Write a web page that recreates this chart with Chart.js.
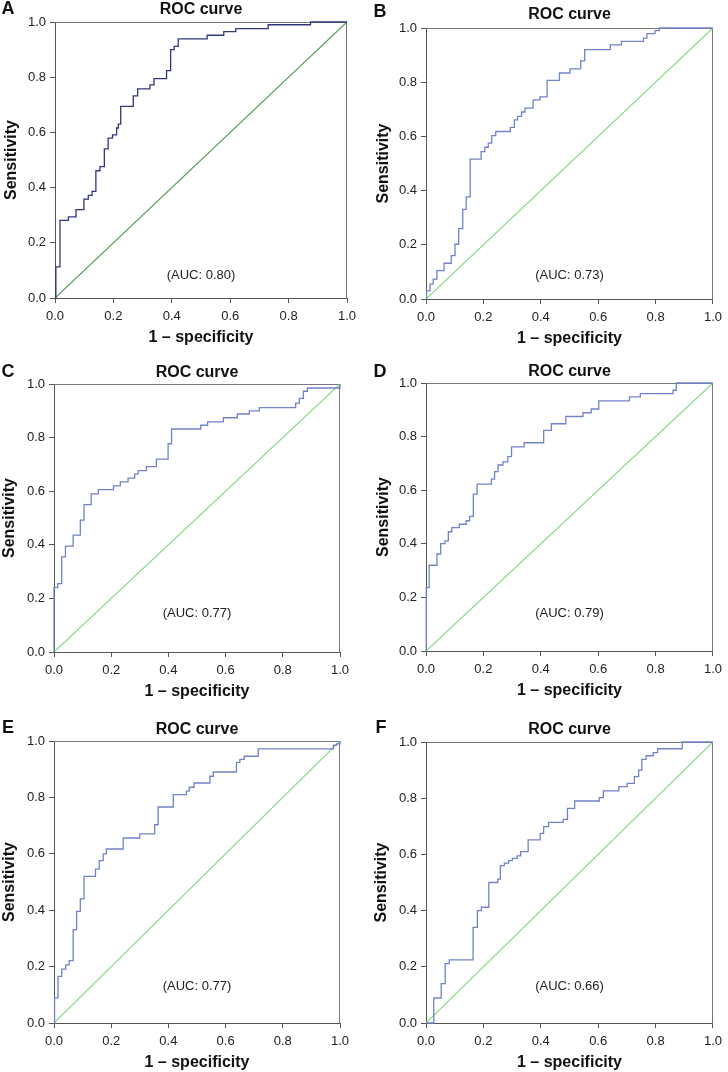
<!DOCTYPE html>
<html>
<head>
<meta charset="utf-8">
<script src="https://cdn.jsdelivr.net/npm/chart.js@4.4.1/dist/chart.umd.min.js"></script>
<style>
  html, body { margin: 0; padding: 0; background: #fff; width: 728px; height: 1072px; overflow: hidden; }
  .panel { position: absolute; }
</style>
</head>
<body>
<div class="panel" id="pA"><canvas id="cA"></canvas></div>
<div class="panel" id="pB"><canvas id="cB"></canvas></div>
<div class="panel" id="pC"><canvas id="cC"></canvas></div>
<div class="panel" id="pD"><canvas id="cD"></canvas></div>
<div class="panel" id="pE"><canvas id="cE"></canvas></div>
<div class="panel" id="pF"><canvas id="cF"></canvas></div>
<script>
// ROC curve vertices (1 - specificity, sensitivity)
const fprA = [0, 0.003, 0.017, 0.046, 0.072, 0.099, 0.114, 0.127, 0.140, 0.154, 0.169, 0.182, 0.197, 0.211, 0.217, 0.225, 0.268, 0.283, 0.325, 0.339, 0.382, 0.396, 0.408, 0.422, 0.521, 0.578, 0.619, 0.730, 0.875, 1];
const tprA = [0, 0.113, 0.281, 0.294, 0.320, 0.358, 0.372, 0.386, 0.461, 0.476, 0.540, 0.579, 0.591, 0.616, 0.630, 0.694, 0.732, 0.758, 0.772, 0.795, 0.824, 0.900, 0.912, 0.939, 0.952, 0.965, 0.976, 0.990, 1.0, 1.0];

const fprB = [0, 0.002, 0.014, 0.025, 0.038, 0.063, 0.088, 0.101, 0.114, 0.128, 0.140, 0.154, 0.192, 0.205, 0.217, 0.229, 0.243, 0.294, 0.308, 0.319, 0.333, 0.345, 0.373, 0.397, 0.422, 0.465, 0.502, 0.539, 0.553, 0.642, 0.681, 0.758, 0.770, 0.798, 0.813, 1];
const tprB = [0, 0.030, 0.055, 0.073, 0.105, 0.132, 0.160, 0.202, 0.260, 0.331, 0.377, 0.516, 0.544, 0.560, 0.575, 0.603, 0.618, 0.633, 0.661, 0.674, 0.690, 0.704, 0.735, 0.746, 0.807, 0.834, 0.849, 0.879, 0.920, 0.938, 0.951, 0.963, 0.979, 0.990, 1.0, 1.0];

const fprC = [0, 0.0, 0.013, 0.027, 0.040, 0.067, 0.092, 0.105, 0.130, 0.155, 0.208, 0.232, 0.259, 0.282, 0.294, 0.323, 0.358, 0.399, 0.411, 0.513, 0.537, 0.592, 0.641, 0.683, 0.718, 0.845, 0.858, 0.872, 0.886, 1];
const tprC = [0, 0.240, 0.255, 0.355, 0.395, 0.436, 0.492, 0.550, 0.590, 0.606, 0.620, 0.635, 0.649, 0.664, 0.677, 0.692, 0.720, 0.777, 0.832, 0.846, 0.859, 0.874, 0.888, 0.900, 0.912, 0.929, 0.946, 0.973, 0.985, 1.0];

const fprD = [0, 0.001, 0.011, 0.038, 0.051, 0.066, 0.078, 0.090, 0.116, 0.140, 0.152, 0.165, 0.178, 0.228, 0.239, 0.251, 0.268, 0.285, 0.298, 0.342, 0.410, 0.437, 0.487, 0.547, 0.576, 0.602, 0.709, 0.747, 0.861, 0.872, 1];
const tprD = [0, 0.237, 0.320, 0.362, 0.401, 0.411, 0.445, 0.460, 0.473, 0.486, 0.502, 0.585, 0.623, 0.641, 0.669, 0.694, 0.706, 0.725, 0.762, 0.777, 0.823, 0.848, 0.875, 0.889, 0.903, 0.933, 0.948, 0.960, 0.973, 1.0, 1.0];

const fprE = [0, 0.002, 0.014, 0.027, 0.041, 0.053, 0.067, 0.079, 0.092, 0.105, 0.145, 0.158, 0.172, 0.183, 0.242, 0.300, 0.352, 0.364, 0.417, 0.463, 0.473, 0.490, 0.545, 0.557, 0.638, 0.650, 0.665, 0.714, 0.977, 0.988, 1];
const tprE = [0, 0.089, 0.165, 0.191, 0.206, 0.221, 0.331, 0.396, 0.440, 0.520, 0.546, 0.576, 0.600, 0.617, 0.656, 0.671, 0.703, 0.766, 0.810, 0.822, 0.836, 0.851, 0.875, 0.890, 0.924, 0.935, 0.946, 0.972, 0.985, 0.990, 1.0];

const fprF = [0, 0.027, 0.053, 0.067, 0.081, 0.164, 0.179, 0.193, 0.219, 0.250, 0.259, 0.273, 0.288, 0.301, 0.318, 0.330, 0.356, 0.398, 0.410, 0.427, 0.478, 0.493, 0.518, 0.604, 0.618, 0.672, 0.701, 0.726, 0.741, 0.752, 0.767, 0.792, 0.807, 0.893, 1];
const tprF = [0, 0.089, 0.140, 0.211, 0.225, 0.340, 0.400, 0.412, 0.500, 0.512, 0.560, 0.569, 0.578, 0.586, 0.595, 0.610, 0.652, 0.675, 0.699, 0.714, 0.725, 0.764, 0.790, 0.802, 0.826, 0.841, 0.853, 0.877, 0.900, 0.938, 0.951, 0.962, 0.976, 1.0, 1.0];

// chance line and axis ticks
const diagX = [0, 1];
const diagY = [0, 1];
const tickValues = [0, 0.2, 0.4, 0.6, 0.8, 1.0];

const panelLetters = ['A', 'B', 'C', 'D', 'E', 'F'];
const aucValues = ['0.80', '0.73', '0.77', '0.79', '0.77', '0.66'];

const FONT = "'Liberation Sans', Arial, Helvetica, sans-serif";
const X_SCALE_H = 50;

// layout of each panel on the page (page pixels)
const panels = [
  { fpr: fprA, tpr: tprA, box: [0, 0],     area: [55, 22, 347, 298],   titleY: 10,    letter: [8, 9],     yTitleX: 12,  aucY: 0.083, curve: '#32367a', diag: '#4e9a52' },
  { fpr: fprB, tpr: tprB, box: [364, 0],   area: [426, 28, 718, 299],  titleY: 14.5,  letter: [380, 12.5], yTitleX: 384, aucY: 0.086, curve: '#7383c9', diag: '#82da82' },
  { fpr: fprC, tpr: tprC, box: [0, 355],   area: [54, 384, 340, 652],  titleY: 372.5, letter: [8, 372],   yTitleX: 10,  aucY: 0.143, curve: '#7383c9', diag: '#82da82' },
  { fpr: fprD, tpr: tprD, box: [364, 355], area: [426, 383, 718, 651], titleY: 372,   letter: [380, 372], yTitleX: 384, aucY: 0.139, curve: '#7383c9', diag: '#82da82' },
  { fpr: fprE, tpr: tprE, box: [0, 710],   area: [54, 741, 340, 1023], titleY: 730,   letter: [8, 728],   yTitleX: 10,  aucY: 0.130, curve: '#7383c9', diag: '#82da82' },
  { fpr: fprF, tpr: tprF, box: [364, 710], area: [426, 742, 718, 1023], titleY: 730,  letter: [381, 728], yTitleX: 382, aucY: 0.130, curve: '#7383c9', diag: '#82da82' }
];

// top and right edges of the plot frame, panel letter and AUC note
const rocDecor = {
  id: 'rocDecor',
  beforeDatasetsDraw(chart) {
    const { ctx, chartArea: a } = chart;
    const l = Math.round(a.left) + 0.5, t = Math.round(a.top) + 0.5;
    const r = Math.round(a.right) - 0.5, b = Math.round(a.bottom) + 0.5;
    ctx.save();
    ctx.strokeStyle = '#7a7a7a';
    ctx.lineWidth = 1;
    ctx.beginPath();
    ctx.moveTo(l, t);
    ctx.lineTo(r, t);
    ctx.lineTo(r, b);
    ctx.stroke();
    ctx.restore();
  },
  afterDraw(chart, args, opts) {
    const { ctx, scales } = chart;
    ctx.save();
    ctx.fillStyle = '#111';
    ctx.textAlign = 'center';
    ctx.textBaseline = 'middle';
    ctx.font = 'bold 18px ' + FONT;
    ctx.fillText(opts.letter, opts.letterX, opts.letterY);
    ctx.font = '13px ' + FONT;
    ctx.fillStyle = '#222';
    ctx.fillText('(AUC: ' + opts.auc + ')', scales.x.getPixelForValue(0.5), scales.y.getPixelForValue(opts.aucY));
    ctx.restore();
  }
};

const makePanel = (p, i) => {
  const [cx, cy] = p.box;
  const [L, T, R, B] = p.area;
  const cw = 364;
  const ch = B - cy + X_SCALE_H;
  const wrap = document.getElementById('p' + panelLetters[i]);
  wrap.style.left = cx + 'px';
  wrap.style.top = cy + 'px';
  const canvas = document.getElementById('c' + panelLetters[i]);
  canvas.width = cw;
  canvas.height = ch;
  canvas.style.width = cw + 'px';
  canvas.style.height = ch + 'px';

  const titlePadTop = Math.max(0, p.titleY - cy - 9.6);
  const titlePadBottom = T - cy - titlePadTop - 19.2;

  const tickStyle = {
    font: { family: FONT, size: 13 },
    color: '#222',
    padding: 4,
    callback: (v) => Number(v).toFixed(1)
  };

  return new Chart(canvas.getContext('2d'), {
    type: 'line',
    data: {
      datasets: [
        {
          label: 'ROC',
          data: p.fpr.map((x, k) => ({ x, y: p.tpr[k] })),
          borderColor: p.curve,
          borderWidth: 1.3,
          pointRadius: 0,
          stepped: 'before',
          fill: false,
          clip: 3,
          order: 1
        },
        {
          label: 'Reference',
          data: diagX.map((x, k) => ({ x, y: diagY[k] })),
          borderColor: p.diag,
          borderWidth: 1.2,
          pointRadius: 0,
          fill: false,
          order: 2
        }
      ]
    },
    options: {
      responsive: false,
      animation: false,
      devicePixelRatio: 1,
      layout: { padding: { left: 0, top: 0, right: cx + cw - R, bottom: 0 } },
      scales: {
        x: {
          type: 'linear',
          min: 0,
          max: 1,
          afterBuildTicks: (s) => { s.ticks = tickValues.map(v => ({ value: v })); },
          afterFit: (s) => { s.height = X_SCALE_H; },
          ticks: { ...tickStyle, padding: 6, maxRotation: 0 },
          grid: { drawOnChartArea: false, drawTicks: true, tickLength: 5, color: '#555' },
          border: { display: true, color: '#555', width: 1 },
          title: {
            display: true,
            text: '1 – specificity',
            font: { family: FONT, size: 16, weight: 'bold' },
            color: '#111',
            padding: { top: 0, bottom: 1 }
          }
        },
        y: {
          type: 'linear',
          min: 0,
          max: 1,
          afterBuildTicks: (s) => { s.ticks = tickValues.map(v => ({ value: v })); },
          afterFit: (s) => { s.width = L - cx; },
          ticks: tickStyle,
          grid: { drawOnChartArea: false, drawTicks: true, tickLength: 5, color: '#555' },
          border: { display: true, color: '#555', width: 1 },
          title: {
            display: true,
            text: 'Sensitivity',
            font: { family: FONT, size: 16, weight: 'bold' },
            color: '#111',
            padding: { top: p.yTitleX - cx - 9.6, bottom: 0 }
          }
        }
      },
      plugins: {
        legend: { display: false },
        tooltip: { enabled: false },
        title: {
          display: true,
          text: 'ROC curve',
          fullSize: false,
          font: { family: FONT, size: 16, weight: 'bold' },
          color: '#111',
          padding: { top: titlePadTop, bottom: titlePadBottom }
        },
        rocDecor: {
          letter: panelLetters[i],
          letterX: p.letter[0] - cx,
          letterY: p.letter[1] - cy,
          auc: aucValues[i],
          aucY: p.aucY
        }
      }
    },
    plugins: [rocDecor]
  });
};

panels.forEach(makePanel);
</script>
</body>
</html>
